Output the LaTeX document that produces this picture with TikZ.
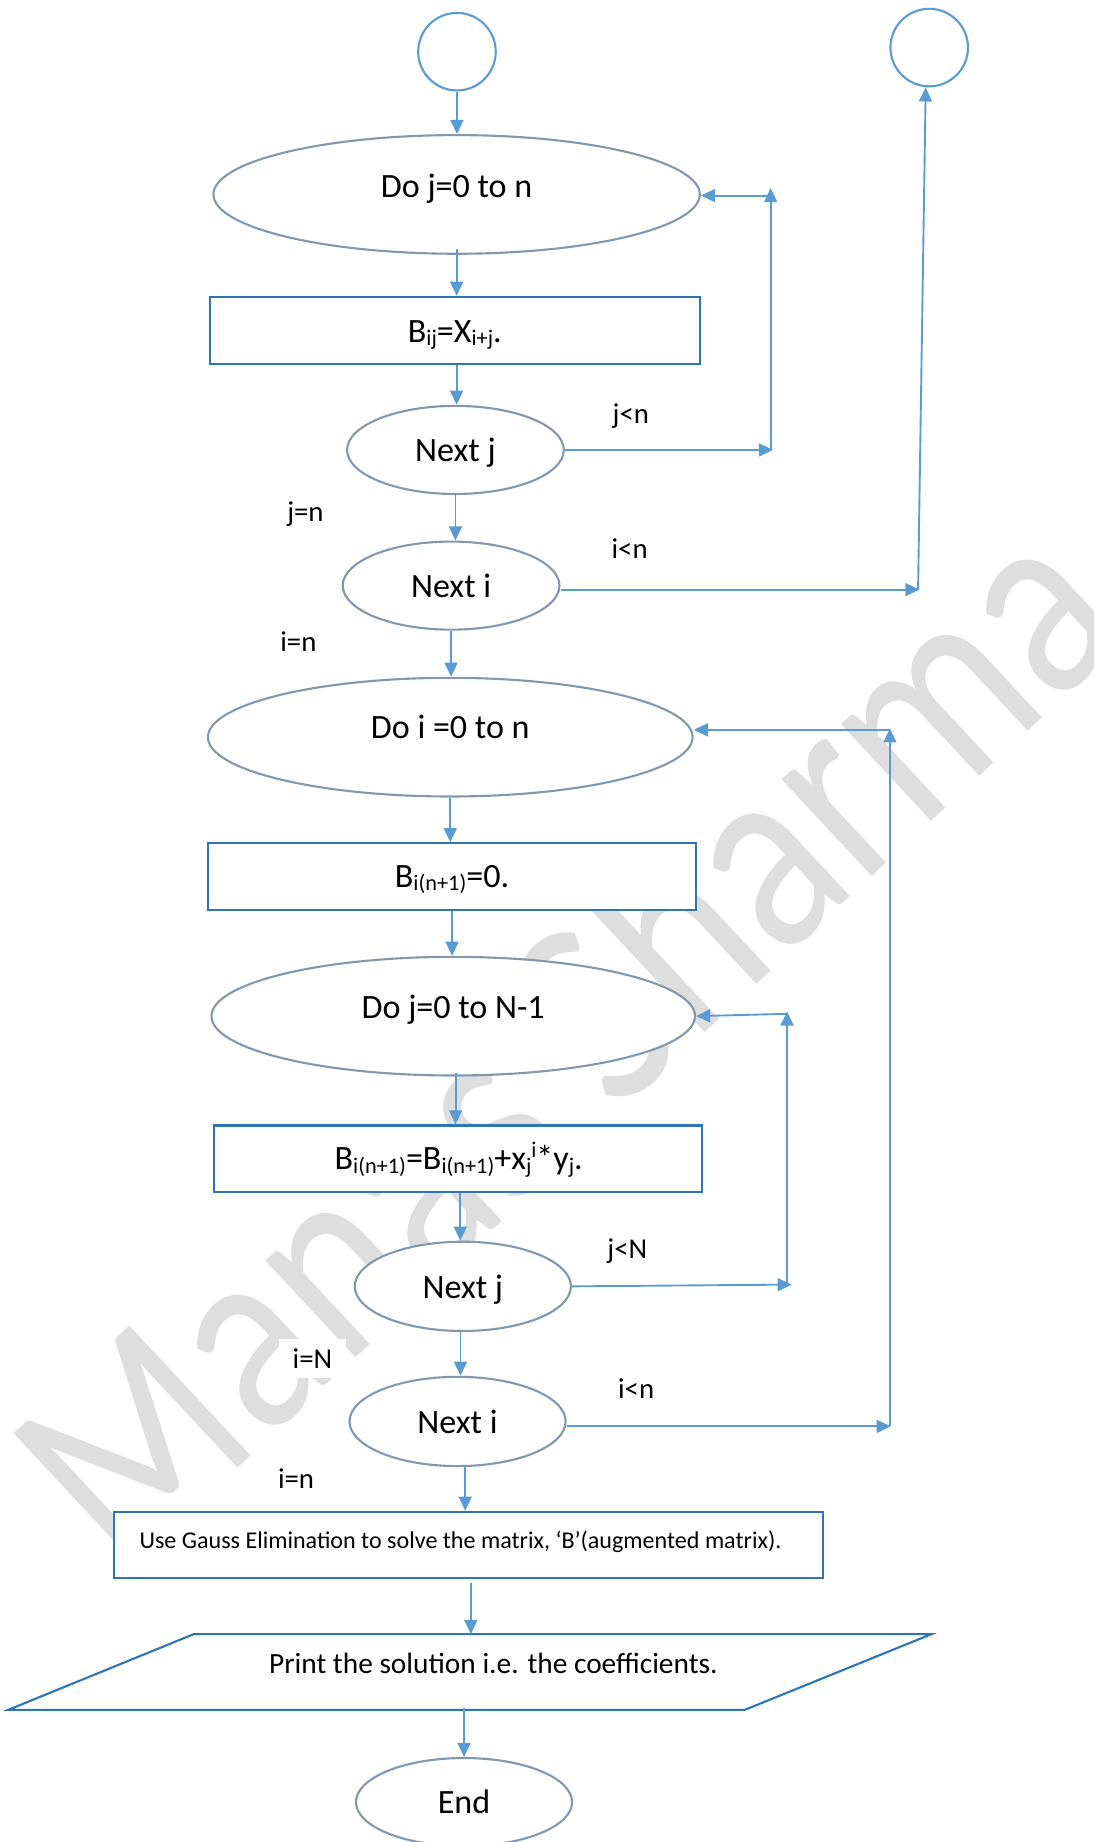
\documentclass[tikz,border=0pt]{standalone}
\usepackage{fontspec}
\setmainfont{Carlito}
\usetikzlibrary{shapes.geometric,arrows.meta}

\definecolor{arrowblue}{HTML}{5B9BD5}
\definecolor{boxblue}{HTML}{2E75B6}
\definecolor{ovalgrey}{HTML}{8497B0}
\definecolor{markgrey}{HTML}{DEDEDE}

% lowered / raised small text for indices
\newcommand\subtxt[1]{\raisebox{-3pt}{\fontsize{19}{19}\selectfont #1}}
\newcommand\suptxt[1]{\raisebox{10pt}{\fontsize{19}{19}\selectfont #1}}

\begin{document}
\begin{tikzpicture}[x=1pt,y=-1pt,
  arr/.style={draw=arrowblue, line width=1.6pt, -{Triangle[length=12pt,width=11pt]}},
  oval/.style={ellipse, draw=ovalgrey, fill=white, line width=1.8pt, inner sep=0pt},
  proc/.style={rectangle, draw=boxblue, fill=white, line width=1.8pt, inner sep=0pt},
  conn/.style={ellipse, draw=arrowblue, fill=white, line width=1.8pt, inner sep=0pt,
               minimum width=66pt, minimum height=66pt},
  txt/.style={inner sep=0pt, anchor=base, font=\fontsize{29}{34}\selectfont},
  lbl/.style={fill=white, inner xsep=12pt, inner ysep=8pt, font=\fontsize{24.5}{29}\selectfont},
]
\useasboundingbox (0,0) rectangle (931,1568);

% background watermark
\node[rotate=43, xscale=0.95, yscale=1.15, text=markgrey, inner sep=0pt,
      font=\fontsize{205}{210}\selectfont]
  (wm) at (479,881) {Manas Sharma};

% branch labels
\node[lbl] (lj1) at (537,354) {j<n};
\node[lbl] (le1) at (260,437.5) {j=n};
\node[lbl] (li1) at (536,467) {i<n};
\node[lbl] (lf1) at (254,546.5) {i=n};
\node[lbl] (lj2) at (534,1065) {j<N};
\node[lbl] (le2) at (266,1156.5) {i=N};
\node[lbl] (li2) at (541.5,1182) {i<n};
\node[lbl] (lf2) at (252,1258.5) {i=n};

% connectors (circles)
\node[conn] (c1) at (389,44) {};
\node[conn] (c2) at (791,40.5) {};

% first double loop
\node[oval, minimum width=414pt, minimum height=101pt] (e1) at (388.7,165.5) {};
\node[txt] (e1t) at ([yshift=-2.5pt]e1.center) {Do j=0 to n};

\node[proc, minimum width=417.5pt, minimum height=57pt] (b1) at (387.2,281.2) {};
\node[txt] (b1t) at ([yshift=-10pt]b1.center) {B\subtxt{ij}=X\subtxt{i+j}.};

\node[oval, minimum width=184.5pt, minimum height=75pt] (nj1) at (387.7,383) {};
\node[txt] (nj1t) at ([yshift=-10pt]nj1.center) {Next j};

\node[oval, minimum width=184.5pt, minimum height=75pt] (ni1) at (384,498.5) {};
\node[txt] (ni1t) at ([yshift=-10.5pt]ni1.center) {Next i};

% second double loop
\node[oval, minimum width=412.6pt, minimum height=101pt] (e2) at (383.3,627.5) {};
\node[txt] (e2t) at ([yshift=-1.5pt]e2.center) {Do i =0 to n};

\node[proc, minimum width=415.5pt, minimum height=56.7pt] (b2) at (384.8,746.2) {};
\node[txt] (b2t) at ([yshift=-9pt]b2.center) {B\subtxt{i(n+1)}=0.};

\node[oval, minimum width=411.6pt, minimum height=101pt] (e3) at (385.8,865) {};
\node[txt] (e3t) at ([yshift=-1.8pt]e3.center) {Do j=0 to N-1};

\node[proc, minimum width=415.5pt, minimum height=56.7pt] (b3) at (389.8,986.4) {};
\node[txt] (b3t) at ([xshift=0.7pt,yshift=-9.3pt]b3.center)
  {B\subtxt{i(n+1)}=B\subtxt{i(n+1)}+x\subtxt{j}\suptxt{i}*y\subtxt{j}.};

\node[oval, minimum width=184pt, minimum height=76pt] (nj2) at (394,1095) {};
\node[txt] (nj2t) at ([yshift=-10pt]nj2.center) {Next j};

\node[oval, minimum width=184pt, minimum height=76pt] (ni2) at (389.5,1210) {};
\node[txt] (ni2t) at ([yshift=-10pt]ni2.center) {Next i};

% solving and output
\node[proc, minimum width=604pt, minimum height=56.5pt] (b4) at (398.8,1315.2) {};
\node[txt, font=\fontsize{20.5}{24}\selectfont] (b4t) at ([xshift=-6.8pt,yshift=-3pt]b4.center)
  {Use Gauss Elimination to solve the matrix, ‘B’(augmented matrix).};

\coordinate (ptl) at (165,1391);
\coordinate (ptr) at (793,1391);
\coordinate (pbr) at (634,1455.5);
\coordinate (pbl) at (7,1455.5);
\draw[boxblue, fill=white, line width=1.8pt, line join=miter] (ptl) -- (ptr) -- (pbr) -- (pbl) -- cycle;
\node[txt, font=\fontsize{25}{30}\selectfont] (pt) at (420,1424.7) {Print the solution i.e. the coefficients.};
\coordinate (ptop) at (400.8,1391);
\coordinate (pbot) at (395,1453.6);

\node[oval, minimum width=184pt, minimum height=75pt] (end) at (395,1534) {};
\node[txt] (endt) at ([yshift=-10pt]end.center) {End};

% main flow
\draw[arr] (c1.south) -- (c1.south |- e1.north);
\draw[arr] ([yshift=5pt]e1.south) -- (e1.south |- b1.north);
\draw[arr] ([xshift=1.5pt]b1.south) -- ([xshift=1.5pt]b1.south |- nj1.north);
\draw[arr] (nj1.south) -- (nj1.south |- ni1.north);
\draw[arr] (ni1.south) -- (ni1.south |- e2.north);
\draw[arr] (e2.south) -- (e2.south |- b2.north);
\draw[arr] (b2.south) -- (b2.south |- e3.north);
\draw[arr] ([xshift=2pt,yshift=3pt]e3.south) -- ([xshift=2pt]e3.south |- b3.north);
\draw[arr] ([xshift=2pt]b3.south) -- ([xshift=2pt]b3.south |- nj2.north);
\draw[arr] ([xshift=-2pt]nj2.south) -- ([xshift=-2pt]nj2.south |- ni2.north);
\draw[arr] ([xshift=6.5pt,yshift=2pt]ni2.south) -- ([xshift=6.5pt]ni2.south |- b4.north);
\draw[arr] ([xshift=2pt,yshift=-3pt]b4.south) -- (ptop);
\draw[arr] (pbot) -- (end.north);

% loop j (first)
\coordinate (j1r) at (658,383);
\coordinate (j1b) at (656,383);
\coordinate (j1t) at (656,160);
\coordinate (j1h) at (656,166.5);
\draw[arr] (nj1.east) -- (j1r);
\draw[arr] (j1b) -- (j1t);
\draw[arr] (j1h) -- (e1.east |- j1h);

% loop i (first) to the off-page connector
\coordinate (i1r) at (782.7,501.9);
\coordinate (i1b) at (781.5,501.9);
\draw[arr] (ni1.east |- i1r) -- (i1r);
\draw[arr] (i1b) -- ([xshift=-3pt]c2.south);

% loop j (second)
\coordinate (j2r) at (674,1093.5);
\coordinate (j2b) at (670,1093.5);
\coordinate (j2t) at (670,861);
\coordinate (j2h) at (670,863);
\draw[arr] (nj2.east) -- (j2r);
\draw[arr] (j2b) -- (j2t);
\draw[arr] (j2h) -- (e3.east);

% loop i (second)
\coordinate (i2r) at (758.3,1214.2);
\coordinate (i2b) at (757.5,1214.2);
\coordinate (i2t) at (757.5,620);
\coordinate (i2h) at (757.5,621.3);
\draw[arr] (ni2.east |- i2r) -- (i2r);
\draw[arr] (i2b) -- (i2t);
\draw[arr] (i2h) -- (e2.east |- i2h);
\end{tikzpicture}
\end{document}
